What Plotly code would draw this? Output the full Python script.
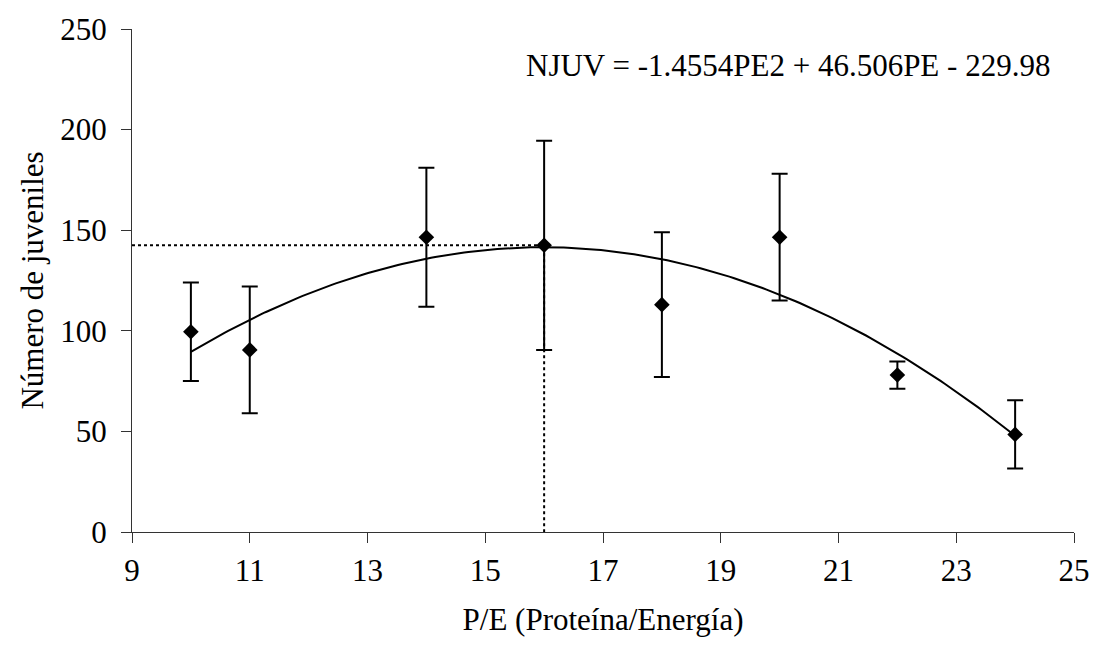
import numpy as np
import plotly.graph_objects as go

# Protein/energy ratio (P/E) and mean number of juveniles with their error
pe_ratio = [10, 11, 14, 16, 18, 20, 22, 24]
juveniles = [99.5, 90.5, 146.5, 142.5, 113, 146.5, 78, 48.5]
juv_error = [24.5, 31.5, 34.5, 52, 36, 31.5, 6.8, 17]

# Quadratic fit: NJUV = a*PE^2 + b*PE + c
coef_a, coef_b, coef_c = -1.4554, 46.506, -229.98
fit_range = [10, 24]

# Reference guide lines at the optimum (PE = 16)
opt_pe = 16
opt_njuv = 142.5

x_ticks = [9, 11, 13, 15, 17, 19, 21, 23, 25]
y_ticks = [0, 50, 100, 150, 200, 250]

FONT = "Times New Roman, Liberation Serif, Times, serif"
FS = 31

pe_fit = np.linspace(fit_range[0], fit_range[1], 200)
njuv_fit = coef_a * pe_fit**2 + coef_b * pe_fit + coef_c

fig = go.Figure()

# dotted guide lines
fig.add_trace(go.Scatter(
    x=[9, opt_pe, opt_pe], y=[opt_njuv, opt_njuv, 0],
    mode="lines", line=dict(color="black", width=2, dash="3px,3px"),
    hoverinfo="skip", showlegend=False,
))

# fitted curve
fig.add_trace(go.Scatter(
    x=pe_fit, y=njuv_fit, mode="lines",
    line=dict(color="black", width=2),
    showlegend=False,
))

# observed means with error bars
fig.add_trace(go.Scatter(
    x=pe_ratio, y=juveniles, mode="markers",
    marker=dict(symbol="diamond", size=12, color="black"),
    error_y=dict(type="data", array=juv_error, visible=True,
                 color="black", thickness=2, width=8),
    showlegend=False,
))

axis_common = dict(
    showgrid=False, zeroline=False, showline=True,
    linecolor="#333333", linewidth=1,
    ticks="outside", ticklen=10, tickwidth=1, tickcolor="#333333",
    tickfont=dict(family=FONT, size=FS, color="black"),
)

fig.update_xaxes(range=[9, 25], tickvals=x_ticks, ticklabelstandoff=1,
                 title=dict(text="P/E (Proteína/Energía)", standoff=21,
                            font=dict(family=FONT, size=FS, color="black")),
                 **axis_common)
fig.update_yaxes(range=[0, 250], tickvals=y_ticks, ticklabelstandoff=8,
                 title=dict(text="Número de juveniles", standoff=7,
                            font=dict(family=FONT, size=FS, color="black")),
                 **axis_common)

fig.add_annotation(
    text="NJUV = -1.4554PE2 + 46.506PE - 229.98",
    xref="paper", yref="paper", x=0.977, y=0.927,
    xanchor="right", yanchor="middle", showarrow=False,
    font=dict(family=FONT, size=FS, color="black"),
)

fig.update_layout(
    width=1102, height=656, autosize=False,
    margin=dict(l=132, r=18, t=23, b=124),
    paper_bgcolor="white", plot_bgcolor="white",
    font=dict(family=FONT, size=FS, color="black"),
)

fig.write_html("out.html")
